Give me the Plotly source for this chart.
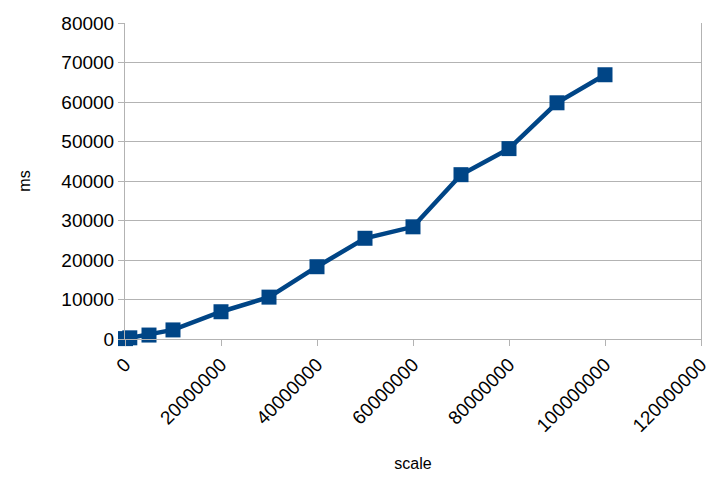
import plotly.graph_objects as go

scale = [100000, 1000000, 5000000, 10000000, 20000000, 30000000, 40000000,
         50000000, 60000000, 70000000, 80000000, 90000000, 100000000]
ms = [100, 300, 1000, 2300, 6900, 10600, 18300, 25500, 28400, 41600, 48200, 59800, 66900]

x_ticks = [0, 20000000, 40000000, 60000000, 80000000, 100000000, 120000000]
y_ticks = [0, 10000, 20000, 30000, 40000, 50000, 60000, 70000, 80000]

grid = "#b3b3b3"
fig = go.Figure()
fig.add_trace(go.Scatter(
    x=scale, y=ms, mode="lines+markers",
    line=dict(color="#004586", width=4.5),
    marker=dict(symbol="square", size=15, color="#004586"),
    cliponaxis=False,
))
fig.update_layout(
    width=718, height=484,
    margin=dict(l=117, r=25, t=15, b=153, autoexpand=False),
    paper_bgcolor="white", plot_bgcolor="white",
    showlegend=False,
    font=dict(family="Liberation Sans, Arial, sans-serif", size=19, color="black"),
)
fig.update_xaxes(
    range=[0, 120000000], tickvals=x_ticks, ticktext=[str(v) for v in x_ticks],
    tickangle=-45, showgrid=False, zeroline=False,
    showline=True, linecolor=grid, linewidth=1,
    ticks="outside", ticklen=6, tickcolor=grid,
    title=dict(text="scale", font=dict(size=16), standoff=22),
)
fig.update_yaxes(
    range=[0, 80000], tickvals=y_ticks, ticktext=[str(v) for v in y_ticks],
    showgrid=True, gridcolor=grid, gridwidth=1, zeroline=False,
    showline=True, linecolor=grid, linewidth=1, mirror=True,
    ticks="outside", ticklen=6, tickcolor=grid,
    title=dict(text="ms", font=dict(size=16), standoff=26),
)
fig.write_html("out.html")
